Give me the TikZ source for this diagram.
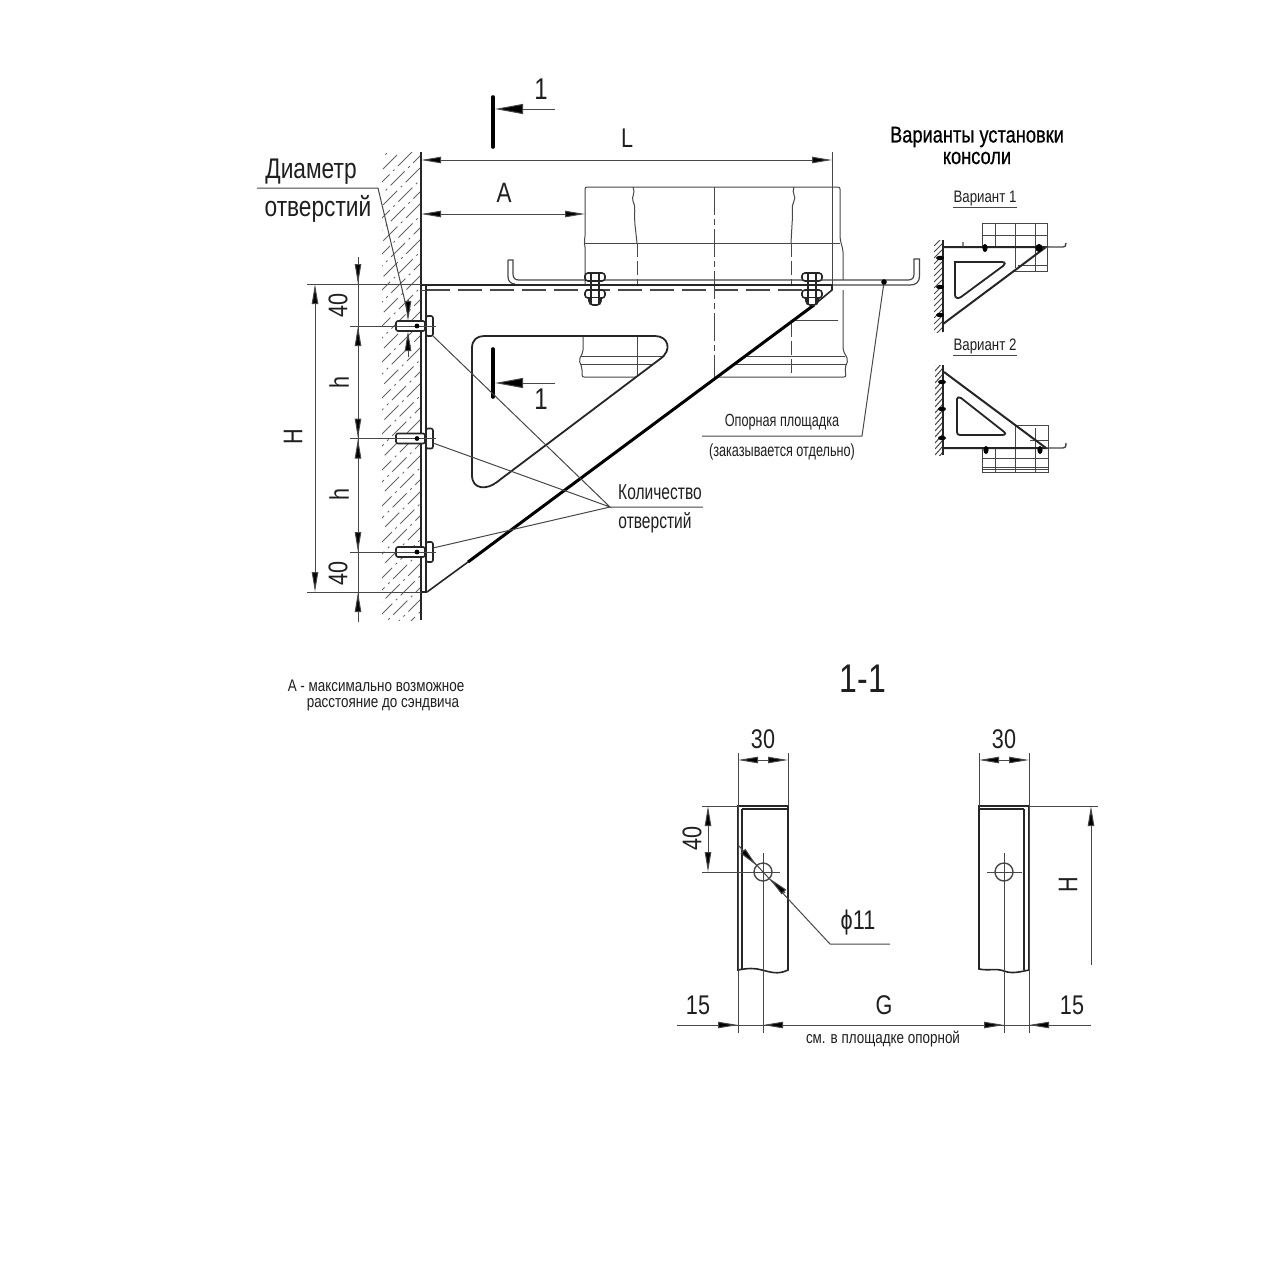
\documentclass[tikz,border=0pt]{standalone}
\usepackage{fontspec}
\setmainfont{Liberation Sans}
\newfontfamily\narf[FakeStretch=0.8]{Liberation Sans}
\newfontfamily\tallf[FakeStretch=0.72]{Liberation Sans}
\newfontfamily\titlef[FakeStretch=0.8,FakeBold=0.7]{Liberation Sans}
\usetikzlibrary{arrows.meta}
\definecolor{ln}{gray}{0.28}
\definecolor{txt}{gray}{0.12}
\newcommand\szf[1]{\fontsize{#1}{#1}\selectfont}
\tikzset{
  thin line/.style={draw=ln,line width=0.5pt},
  main line/.style={draw=black!85,line width=0.8pt},
  heavy line/.style={draw=black,line width=1.5pt},
  dimarrow/.tip={Triangle[length=10pt,width=3.2pt,fill=black]},
  bigarrow/.tip={Triangle[length=14pt,width=5pt,fill=black]},
  dim/.style={thin line,{dimarrow}-{dimarrow}},
  dimend/.style={thin line,-{dimarrow}},
  lab/.style={inner sep=0pt,text=txt,font=\narf\szf{13.5}},
  midlab/.style={inner sep=0pt,text=txt,font=\tallf\szf{10.8}},
  smalllab/.style={inner sep=0pt,text=txt,font=\tallf\szf{8.8}},
  notelab/.style={inner sep=0pt,text=txt,font=\narf\szf{8.4}},
  varlab/.style={inner sep=0pt,text=txt,font=\narf\szf{8.3}},
  titlelab/.style={inner sep=0pt,text=black,font=\titlef\szf{11.4}},
  hatchline/.style={draw=black!60,line width=0.42pt},
}
\newcommand\wbolt[1]{\begin{scope}[shift={(0,#1)}]
  \draw[main line,fill=white,rounded corners=1pt] (396,-5) rectangle (425,5);
  \draw[main line,fill=white,rounded corners=1pt] (426,-10) rectangle (433,10);
  \draw[thin line] (350,0) -- (436,0);
  \fill[black] (417,0) circle (2.4);
\end{scope}}
\newcommand\pnut[1]{\begin{scope}[shift={(#1,0)}]
  \draw[main line,fill=white,rounded corners=1.5pt] (-10,273) rectangle (10,281);
  \draw[main line,fill=white,rounded corners=1.5pt] (-10,290) rectangle (10,298);
  \draw[main line,fill=white,rounded corners=2pt] (-6,298) -- (-6,305) -- (6,305) -- (6,298);
  \draw[main line,line width=0.6pt] (-4,273) -- (-4,304) (4,273) -- (4,304);
\end{scope}}
\newcommand\swall[4]{%
  \begin{scope}
    \clip (#1,#3) rectangle (#2,#4);
    \foreach \k in {0,6,...,126} {\draw[thin line] (#1,#3+\k) -- (#2,#3+\k-9);}
  \end{scope}
  \draw[main line] (#2,#3) -- (#2,#4);}
\begin{document}
\begin{tikzpicture}[x=0.5pt,y=-0.5pt]
\useasboundingbox (0,0) rectangle (1280,1280);
\fill[white] (0,0) rectangle (1280,1280);

% ---- wall
\begin{scope}
  \clip (382,152) rectangle (421,620);
  \foreach \k in {150,162,...,680} {
    \pgfmathsetmacro\ph{mod(\k*0.44,16)}
    \draw[hatchline,dash pattern=on 10pt off 2.5pt on 1pt off 2.5pt,dash phase=\ph pt] (378,\k) -- (425,\k-47);}
\end{scope}
\draw[main line,line width=1pt] (421,152) -- (421,620);

% ---- flue (behind the platform)
\draw[thin line,rounded corners=1pt] (585,284) -- (585,245) -- (584,242) -- (585,238) -- (585,187) -- (840,187) -- (840,238) -- (841,243) -- (843,250) -- (843,280);
\draw[thin line] (585,243) -- (840,243);
\draw[thin line] (633,187) .. controls (636,193) and (631,197) .. (633,201) .. controls (636,206) and (634,214) .. (635,225) -- (637,243);
\draw[thin line] (794,187) .. controls (791,193) and (797,197) .. (794,201) .. controls (791,206) and (793,214) .. (792,225) -- (791,243);
\draw[thin line,dash pattern=on 7pt off 2pt] (637,243) -- (637,284);
\draw[thin line,dash pattern=on 7pt off 2pt] (791,243) -- (791,284);
\draw[thin line,dash pattern=on 14pt off 2pt on 3pt off 2pt] (714,187) -- (714,377);
% part seen through the opening
\draw[thin line,rounded corners=1pt] (583,337) -- (583,352) -- (579,360) -- (582,368) -- (582,377) -- (636,377);
\draw[thin line] (581,356) -- (664,356) (581,364) -- (654,364);
\draw[thin line] (637,337) -- (637,377);
% part right of the bracket
\draw[thin line,rounded corners=1pt] (716,377) -- (846,377) -- (845,368) -- (848,360) -- (843,350) -- (843,290);
\draw[thin line] (745,356) -- (845,356) (734,364) -- (846,364);
\draw[thin line] (794,320) -- (838,320);
\draw[thin line,dash pattern=on 7pt off 2pt] (791,323) -- (791,377);

% ---- opening in the bracket
\draw[main line,line width=0.9pt] (484,336) -- (655,336) .. controls (668,336) and (673,350) .. (660,359) -- (497,482) .. controls (487,490) and (472,490) .. (472,475) -- (472,348) .. controls (472,340) and (477,336) .. (484,336) -- cycle;

% ---- platform
\draw[thin line,line width=0.6pt] (508,260) -- (513,260) -- (513,274) .. controls (513,278) and (515,280) .. (519,280) -- (908,280) .. controls (912,280) and (914,278) .. (914,274) -- (914,259) -- (919.5,259) -- (919.5,276) .. controls (919.5,282) and (916,285) .. (910,285) -- (832,285);
\draw[thin line,line width=0.6pt] (508,260) -- (508,277) .. controls (508,281) and (511,284) .. (515,284);

% ---- bracket
\draw[main line,line width=1pt] (421,284.5) -- (832,284.5);
\draw[thin line,line width=0.6pt,dash pattern=on 12pt off 4pt] (426,290) -- (810,290);
\draw[main line] (426,284) -- (426,592) -- (421,592);
\draw[thin line] (421,290) -- (426,290);
\draw[main line] (427,592) -- (468,562);
\draw[heavy line] (468,562) -- (814,305);
\draw[main line] (814,305) -- (832,290) -- (832,284);
\pnut{595}
\pnut{812}
\wbolt{326}
\wbolt{438.5}
\wbolt{552}

% ---- extension lines, section marks
\draw[thin line] (832,152) -- (832,284);
\draw[thin line] (307,284) -- (421,284) (307,592) -- (421,592);

\coordinate (sa1) at (495,109); \coordinate (sa2) at (555,109);
\draw[heavy line,line width=1.8pt,line cap=round] (493,97) -- (493,147);
\draw[thin line,-{bigarrow}] (sa2) -- (sa1);
\node[lab,font=\narf\szf{15}] (n1a) at (541,89) {1};
\coordinate (sb1) at (495,383); \coordinate (sb2) at (555,383);
\draw[heavy line,line width=1.8pt,line cap=round] (493,349) -- (493,397);
\draw[thin line,-{bigarrow}] (sb2) -- (sb1);
\node[lab,font=\narf\szf{15}] (n1b) at (541,399) {1};

% ---- dimensions, main view
\coordinate (Lb) at (421,160); \coordinate (Le) at (832,160);
\draw[dim] (Lb) -- (Le);
\node[lab] (tL) at (627,138) {L};
\coordinate (Ab) at (421,214); \coordinate (Ae) at (585,214);
\draw[dim] (Ab) -- (Ae);
\node[lab,font=\szf{14}\narf] (tA) at (504,193) {A};
\coordinate (Hb) at (315,284); \coordinate (He) at (315,592);
\draw[dim] (Hb) -- (He);
\node[lab,rotate=90] (tH) at (293,437) {H};
\draw[thin line] (358,257) -- (358,622);
\draw[dimend] (358,262) -- (358,284);
\draw[dimend] (358,346) -- (358,326);
\draw[dimend] (358,418) -- (358,438.5);
\draw[dimend] (358,459) -- (358,438.5);
\draw[dimend] (358,532) -- (358,552);
\draw[dimend] (358,614) -- (358,592);
\node[lab,rotate=90] (t40a) at (338,305) {40};
\node[lab,rotate=90] (th1) at (339,382) {h};
\node[lab,rotate=90] (th2) at (339,494) {h};
\node[lab,rotate=90] (t40b) at (338,573) {40};
\draw[dimend] (408,300) -- (408,321);
\draw[dimend] (408,357) -- (408,331);

% ---- callouts
\node[lab,font=\narf\szf{14.2}] (tD1) at (311,172) {Диаметр};
\node[lab,font=\narf\szf{14.2}] (tD2) at (318,209) {отверстий};
\coordinate (dshelf) at (378,188);
\coordinate (dend) at (407,310);
\draw[thin line] (257,188) -- (dshelf) -- (dend);
\coordinate (qty) at (610,507);
\draw[thin line] (433,336) -- (qty) -- (433,443);
\draw[thin line] (433,548) -- (qty) -- (703,507);
\node[midlab] (tQ1) at (660,492) {Количество};
\node[midlab] (tQ2) at (655,523) {отверстий};
\coordinate (pdot) at (884,282);
\coordinate (pshelf) at (862,436);
\draw[thin line] (702,436) -- (pshelf) -- (pdot);
\fill[black] (pdot) circle (2.8);
\node[smalllab] (tP1) at (782,422) {Опорная площадка};
\node[smalllab] (tP2) at (782,452) {(заказывается отдельно)};

% ---- variant titles
\node[titlelab] (tV1) at (977,137) {Варианты установки};
\node[titlelab] (tV2) at (977,158) {консоли};
\node[varlab] (tV3) at (985,199) {Вариант 1};
\draw[thin line] (953,207) -- (1017,207);
\node[varlab] (tV4) at (985,346) {Вариант 2};
\draw[thin line] (953,355) -- (1017,355);

% ---- variant 1
\swall{934}{943}{240}{332}
\draw[thin line] (982,247) -- (982,223) -- (1047,223) -- (1047,271) -- (1012,271);
\draw[thin line] (982,235) -- (1047,235);
\draw[thin line] (995,223) -- (995,247) (1015,223) -- (1015,268) (1035,223) -- (1035,271);
\draw[thin line] (1018,265) -- (1047,265);
\draw[main line,line width=1pt] (943,247) -- (1046,247) -- (943,324);
\draw[main line,line width=0.9pt] (955,262) -- (1002,262) .. controls (1006,262) and (1005,265) .. (1003,266) -- (961,297) .. controls (958,299) and (955,298) .. (955,295) -- cycle;
\draw[thin line,line width=0.7pt] (963,242) -- (963,247) (1045,247) -- (1063,247) .. controls (1065,247) and (1066,246) .. (1066,243);
\fill[black] (985,248) ellipse (2.6 and 4) (1039,248) ellipse (3.6 and 4);
\fill[black] (940,258) ellipse (4 and 2.2) (940,287) ellipse (4 and 2.2) (940,315) ellipse (4 and 2.2);

% ---- variant 2
\swall{935}{943}{365}{455}
\draw[thin line] (1015,425) -- (1048,425) -- (1048,472) -- (982,472) -- (982,448);
\draw[thin line] (1030,440) -- (1048,440) (982,458) -- (1048,458) (982,467) -- (1048,467) (982,469) -- (1048,469);
\draw[thin line] (995,448) -- (995,472) (1015,425) -- (1015,472) (1035,428) -- (1035,472);
\draw[main line,line width=1pt] (944,372) -- (1046,448) -- (944,448);
\draw[main line,line width=0.9pt] (957,399) .. controls (957,397) and (959,397) .. (961,398) -- (1003,431) .. controls (1006,433) and (1006,435) .. (1002,435) -- (960,435) .. controls (958,435) and (957,434) .. (957,432) -- cycle;
\draw[thin line,line width=0.7pt] (1046,448) -- (1063,448) .. controls (1065,448) and (1066,447) .. (1066,443);
\fill[black] (986,450) ellipse (2.6 and 4) (1040,450) ellipse (2.6 and 4);
\fill[black] (942,382) ellipse (4 and 2.2) (942,409) ellipse (4 and 2.2) (942,438) ellipse (4 and 2.2);

% ---- notes
\node[notelab] (tN1) at (376,686) {А - максимально возможное};
\node[notelab] (tN2) at (383,705) {расстояние до сэндвича};
\node[lab,font=\narf\szf{20}] (tS) at (863,679) {1-1};

% ---- section 1-1, left strip
\draw[main line] (788,806) -- (788,970) .. controls (778,975) and (770,972) .. (762,970) .. controls (755,968) and (748,968) .. (738,970) -- (738,806) -- cycle;
\draw[main line] (742,809) -- (742,970);
\draw[main line] (742,809) -- (788,809);
\draw[draw=ln,line width=0.7pt] (763,872) circle (9);
\draw[thin line] (702,872) -- (780,872) (763,853) -- (763,1033);
\draw[thin line] (702,806) -- (738,806);
\draw[thin line] (738,753) -- (738,1033) (788,753) -- (788,806);
\draw[dimend] (758,760) -- (738,760);
\draw[dimend] (768,760) -- (788,760);
\draw[thin line] (758,760) -- (768,760);
\node[lab] (t30a) at (763,739) {30};
\coordinate (d40a) at (708,806); \coordinate (d40b) at (708,872);
\draw[dim] (d40a) -- (d40b);
\node[lab,rotate=90] (t40c) at (692,838) {40};
\coordinate (phia) at (738,845); \coordinate (phib) at (830,944);
\draw[thin line] (phia) -- (phib) -- (890,944);
\draw[thin line,-{dimarrow}] (741,849) -- (756.6,865.6);
\draw[thin line,-{dimarrow}] (785,893) -- (769.4,878.4);
\node[lab] (tphi) at (858,923) {ϕ11};

% ---- section 1-1, right strip
\draw[main line] (1029,806) -- (1029,970) .. controls (1019,972) and (1012,974) .. (1004,971) .. controls (996,968) and (989,971) .. (979,969) -- (979,806) -- cycle;
\draw[main line] (1024,809) -- (1024,970);
\draw[main line] (979,809) -- (1024,809);
\draw[draw=ln,line width=0.7pt] (1004,872) circle (9);
\draw[thin line] (987,872) -- (1022,872) (1004,853) -- (1004,1033);
\draw[thin line] (979,753) -- (979,806) (1029,753) -- (1029,1033);
\draw[dimend] (999,760) -- (979,760);
\draw[dimend] (1009,760) -- (1029,760);
\draw[thin line] (999,760) -- (1009,760);
\node[lab] (t30b) at (1004,739) {30};
\draw[thin line] (1029,806) -- (1098,806);
\coordinate (Hs1) at (1091,965); \coordinate (Hs2) at (1091,806);
\draw[dimend] (Hs1) -- (Hs2);
\node[lab,rotate=90] (tH2) at (1068,885) {H};

% ---- bottom chain
\coordinate (c0) at (677,1025); \coordinate (c1) at (738,1025); \coordinate (c2) at (763,1025);
\coordinate (c3) at (1004,1025); \coordinate (c4) at (1029,1025); \coordinate (c5) at (1091,1025);
\draw[thin line] (c0) -- (c5);
\draw[dimend] (c0) -- (c1);
\draw[dimend] (783,1025) -- (c2);
\draw[dimend] (984,1025) -- (c3);
\draw[dimend] (1049,1025) -- (c4);
\node[lab] (t15a) at (698,1005) {15};
\node[lab] (tG) at (884,1005) {G};
\node[lab] (t15b) at (1072,1005) {15};
\node[notelab] (tC) at (883,1039) {см. в площадке опорной};
\end{tikzpicture}
\end{document}
